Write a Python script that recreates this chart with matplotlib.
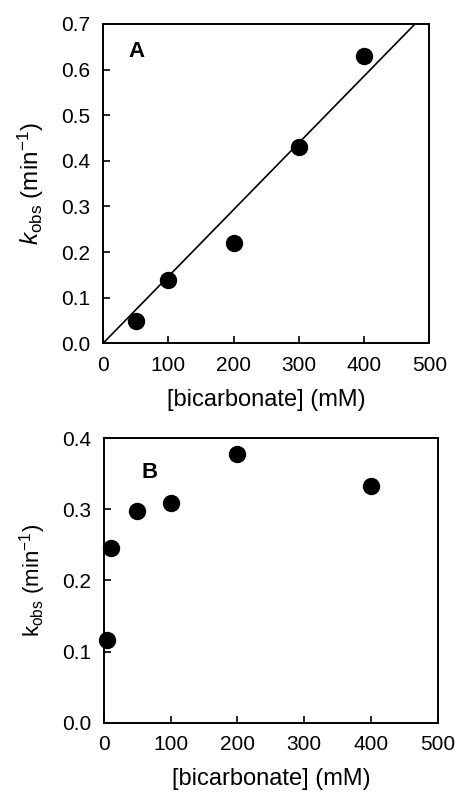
import numpy as np
import matplotlib
matplotlib.use('Agg')
import matplotlib.pyplot as plt

plt.rcParams['font.family'] = ['Liberation Sans', 'DejaVu Sans']
plt.rcParams['mathtext.fontset'] = 'custom'
plt.rcParams['mathtext.rm'] = 'Liberation Sans'
plt.rcParams['mathtext.it'] = 'Liberation Sans:italic'
plt.rcParams['mathtext.bf'] = 'Liberation Sans:bold'

# panel A data
bicarbA = [50, 100, 200, 300, 400]
kobsA = [0.05, 0.138, 0.219, 0.430, 0.630]
slopeA = 0.7 / 478.0  # linear fit through origin
fitX = [0, 500]

# panel B data
bicarbB = [4, 10, 49, 100, 200, 400]
kobsB = [0.117, 0.246, 0.298, 0.309, 0.378, 0.333]

fig = plt.figure(figsize=(4.56, 7.92), dpi=100)
axA = fig.add_axes([0.2259, 0.5665, 0.7156, 0.4032])
axB = fig.add_axes([0.228, 0.0875, 0.7318, 0.3591])

def style(ax):
  for s in ax.spines.values():
    s.set_linewidth(1.4)
  ax.tick_params(direction='in', length=5, width=1.2, labelsize=15, pad=9)
  ax.set_xlim(0, 500)
  ax.set_xticks([0, 100, 200, 300, 400, 500])
  ax.set_xlabel('[bicarbonate] (mM)', fontsize=17, labelpad=10)

style(axA)
axA.plot(fitX, [slopeA * x for x in fitX], color='black', linewidth=1.2)
axA.plot(bicarbA, kobsA, 'o', color='black', markersize=11.5, clip_on=False)
axA.set_ylim(0, 0.7)
axA.set_yticks(np.arange(0, 0.71, 0.1))
axA.set_yticklabels(['%.1f' % v for v in np.arange(0, 0.71, 0.1)])
axA.set_ylabel(r'$k_{\mathrm{obs}}$ (min$^{-1}$)', fontsize=17.5, labelpad=11)
axA.text(52, 0.64, 'A', fontsize=16, fontweight='bold', ha='center', va='center')

style(axB)
axB.plot(bicarbB, kobsB, 'o', color='black', markersize=11.5, clip_on=False)
axB.set_ylim(0, 0.4)
axB.set_yticks([0, 0.1, 0.2, 0.3, 0.4])
axB.set_yticklabels(['0.0', '0.1', '0.2', '0.3', '0.4'])
axB.set_ylabel(r'k$_{\mathrm{obs}}$ (min$^{-1}$)', fontsize=16, labelpad=10)
axB.text(69, 0.352, 'B', fontsize=16, fontweight='bold', ha='center', va='center')

fig.savefig('out.png', dpi=100)
